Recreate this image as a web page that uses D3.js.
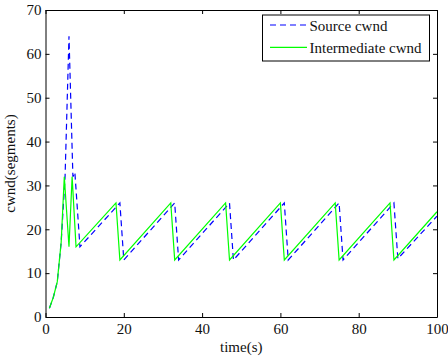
<!DOCTYPE html>
<html>
<head>
<meta charset="utf-8">
<script src="https://cdn.jsdelivr.net/npm/d3@7"></script>
<style>
  body { margin: 0; background: #fff; }
  svg text { font-family: "Liberation Serif", "Times New Roman", serif; fill: #111; }
</style>
</head>
<body>
<svg id="chart" width="448" height="357"></svg>
<script>
// time (s) and cwnd (segments)
const sourceTime = [1, 2, 3, 4, 5, 6, 7, 7.5, 8.8, 19, 20, 33, 34, 47, 48, 61, 62, 75, 76, 89, 90, 100];
const sourceCwnd = [2, 4.5, 8, 17, 32, 64, 32, 33, 16, 26, 13, 26, 13, 26, 13, 26, 13, 26, 13, 26, 13.3, 23];
const interTime = [1, 2, 3, 4, 4.8, 6, 6.8, 7.8, 18, 19, 32, 33, 46, 47, 60, 61, 74, 75, 88, 89, 100];
const interCwnd = [2, 4.5, 8, 17, 32, 16, 32, 16, 26, 13, 26, 13, 26, 13, 26, 13, 26, 13, 26, 13, 24];
const xTicks = [0, 20, 40, 60, 80, 100];
const yTicks = [0, 10, 20, 30, 40, 50, 60, 70];
const seriesNames = ["Source cwnd", "Intermediate cwnd"];

const svg = d3.select("#chart");
const plotL = 45.5, plotR = 437, plotT = 10, plotB = 317;

const x = d3.scaleLinear().domain([0, 100]).range([plotL, plotR]);
const y = d3.scaleLinear().domain([0, 70]).range([plotB, plotT]);

const series = [
  {name: seriesNames[0], pts: sourceTime.map((t, i) => [t, sourceCwnd[i]]), color: "#0000ff", dash: "6,4"},
  {name: seriesNames[1], pts: interTime.map((t, i) => [t, interCwnd[i]]), color: "#00ff00", dash: null}
];

const line = d3.line().x(d => x(d[0])).y(d => y(d[1]));

svg.append("g").selectAll("path")
  .data(series)
  .join("path")
  .attr("d", d => line(d.pts))
  .attr("fill", "none")
  .attr("stroke", d => d.color)
  .attr("stroke-width", 1.2)
  .attr("stroke-dasharray", d => d.dash);

// axes, ticks pointing inward like matlab
const fontSize = 15;
const axB = svg.append("g").attr("transform", `translate(0,${plotB})`)
  .call(d3.axisBottom(x).tickValues(xTicks).tickSizeInner(-4).tickSizeOuter(0).tickPadding(6));
const axT = svg.append("g").attr("transform", `translate(0,${plotT})`)
  .call(d3.axisTop(x).tickValues(xTicks).tickSizeInner(-4).tickSizeOuter(0).tickFormat(""));
const axL = svg.append("g").attr("transform", `translate(${plotL},0)`)
  .call(d3.axisLeft(y).tickValues(yTicks).tickSizeInner(-4).tickSizeOuter(0).tickPadding(4));
const axR = svg.append("g").attr("transform", `translate(${plotR},0)`)
  .call(d3.axisRight(y).tickValues(yTicks).tickSizeInner(-4).tickSizeOuter(0).tickFormat(""));

[axB, axT, axL, axR].forEach(g => {
  g.select(".domain").attr("stroke", "#000").attr("stroke-width", 1);
  g.selectAll(".tick line").attr("stroke", "#000");
  g.selectAll("text").attr("font-size", fontSize)
    .attr("font-family", "Liberation Serif, serif").attr("fill", "#111");
});

svg.append("text")
  .attr("x", (plotL + plotR) / 2)
  .attr("y", 352)
  .attr("text-anchor", "middle")
  .attr("font-size", fontSize)
  .text("time(s)");

svg.append("text")
  .attr("transform", `translate(15,${(plotT + plotB) / 2}) rotate(-90)`)
  .attr("text-anchor", "middle")
  .attr("font-size", fontSize)
  .text("cwnd(segments)");

// legend
const lg = svg.append("g");
lg.append("rect")
  .attr("x", 262.5).attr("y", 15).attr("width", 167).attr("height", 46)
  .attr("fill", "#fff").attr("stroke", "#000").attr("stroke-width", 1);

const items = lg.selectAll("g.item")
  .data(series)
  .join("g")
  .attr("class", "item")
  .attr("transform", (d, i) => `translate(0,${25 + i * 22.3})`);

items.append("line")
  .attr("x1", 270).attr("x2", 307)
  .attr("stroke", d => d.color)
  .attr("stroke-width", 1.2)
  .attr("stroke-dasharray", d => d.dash);

items.append("text")
  .attr("x", 309.5).attr("y", 6)
  .attr("font-size", fontSize)
  .text(d => d.name);
</script>
</body>
</html>
